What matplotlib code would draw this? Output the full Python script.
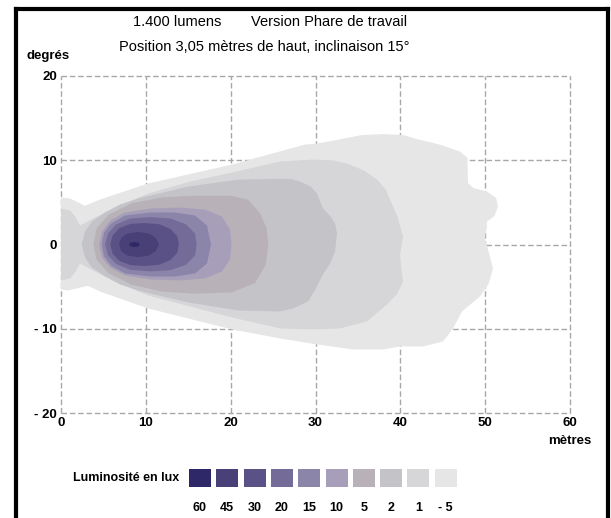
import matplotlib
matplotlib.use('Agg')
import matplotlib.pyplot as plt
from matplotlib.lines import Line2D
from matplotlib.patches import Rectangle

# lux levels and their colours (from the legend)
lux_labels = ['60', '45', '30', '20', '15', '10', '5', '2', '1', '- 5']
lux_colors = ['#2e2868', '#484077', '#5a5187', '#746b99', '#8c85aa',
              '#a79fba', '#b8b2b8', '#c4c4c8', '#d6d6d8', '#e6e6e6']

# isolux outlines: x in metres, y in degrees
out_x = [0, 1.06, 2.83, 4.6, 10.26, 20.16, 28.76, 30.18, 33.0, 35.5, 38.0, 40.3, 42.0,
         44.5, 47.04, 47.9, 47.98, 48.6, 50.22, 51.3, 51.51, 51.1, 50.22, 49.98, 50.5,
         50.93, 50.4, 49.39, 47.27, 46.21, 45.03, 42.67, 39.96, 37.96, 34.42, 30.18,
         25.82, 20.16, 10.26, 4.6, 3.18, 0.83, 0]
out_y = [5.58, 5.46, 4.6, 5.34, 7.24, 9.49, 11.86, 11.98, 12.5, 13.0, 13.1, 13.0, 12.5,
         11.9, 11.03, 10.3, 7.3, 6.7, 6.29, 5.5, 4.51, 3.4, 2.73, 0.71, -1.2,
         -2.85, -4.7, -6.17, -7.95, -9.96, -11.51, -12.1, -12.1, -12.46, -12.46, -11.86,
         -11.15, -10.08, -7.59, -5.58, -4.9, -5.46, -5.34]

l1_x = [0, 1.06, 1.65, 2.24, 4.0, 6.96, 10.26, 15.21, 20.16, 25.82, 29.7, 32.0, 33.71,
        35.7, 37.25, 38.3, 38.78, 39.7, 40.32, 39.96, 40.1, 40.32, 39.6, 38.43, 36.07,
        32.89, 29.7, 25.82, 20.16, 10.26, 6.96, 4.0, 2.24, 1.65, 1.06, 0]
l1_y = [4.27, 4.03, 3.32, 2.25, 3.2, 4.63, 6.05, 7.47, 8.54, 9.85, 10.08, 10.0, 9.61,
        8.8, 7.71, 6.5, 5.34, 3.2, 0.95, -1.19, -2.8, -4.39, -5.9, -7.12, -9.13,
        -9.96, -10.08, -9.96, -8.66, -6.05, -4.63, -3.2, -2.25, -3.32, -4.03, -4.27]

l2_x = [2.44, 2.83, 3.65, 5.19, 6.96, 9.08, 15.0, 20.87, 25.82, 27.2, 28.17, 29.4,
        30.18, 30.88, 31.8, 32.3, 32.54, 32.3, 31.7, 30.88, 30.0, 29.12, 27.35, 25.82,
        20.87, 15.0, 9.08, 6.96, 5.19, 3.65, 2.83]
l2_y = [0, 1.54, 2.73, 3.8, 4.74, 5.46, 6.88, 7.7, 7.8, 7.75, 7.47, 6.9, 6.05, 4.27,
        3.3, 2.49, 1.3, -0.83, -2.3, -3.56, -5.3, -6.76, -7.59, -7.95, -7.83, -6.88,
        -5.46, -4.74, -3.8, -2.73, -1.54]

l5_x = [3.81, 4.2, 5.58, 8.33, 11.87, 15.8, 20.12, 22.08, 23.46, 24.25, 24.44, 24.13,
        22.87, 20.12, 15.8, 11.87, 8.33, 5.58, 4.2]
l5_y = [0, 1.93, 3.52, 4.9, 5.58, 5.81, 5.78, 5.3, 3.71, 1.93, 0, -2.41, -4.59, -5.69,
        -5.85, -5.58, -4.78, -3.4, -1.81]

l10_x = [4.5, 4.83, 5.78, 7.54, 10.49, 14.03, 16.98, 18.98, 19.92, 20.1, 19.92, 18.98,
         16.98, 14.03, 10.49, 7.54, 5.78, 4.83]
l10_y = [0, 1.54, 2.85, 3.8, 4.27, 4.39, 4.15, 3.32, 1.78, 0, -1.78, -3.2, -4.03, -4.27,
         -4.15, -3.68, -2.73, -1.54]

l15_x = [4.8, 5.07, 5.89, 7.54, 10.49, 13.44, 15.8, 17.21, 17.68, 17.21, 15.8, 13.44,
         10.49, 7.54, 5.89, 5.07]
l15_y = [0, 1.42, 2.49, 3.44, 3.8, 3.8, 3.44, 2.25, 0, -2.25, -3.44, -3.8, -3.8, -3.44,
         -2.49, -1.42]

l20_x = [5.19, 5.54, 6.48, 8.13, 10.49, 12.85, 14.74, 15.8, 16.0, 15.8, 14.74, 12.85,
         10.49, 8.13, 6.48, 5.54]
l20_y = [0, 1.3, 2.37, 3.08, 3.25, 3.1, 2.4, 1.3, 0, -1.3, -2.4, -3.05, -3.2, -3.0,
         -2.3, -1.3]

l30_x = [5.8, 6.1, 6.9, 8.2, 9.9, 11.6, 12.9, 13.7, 13.9, 13.7, 12.9, 11.6, 9.9, 8.2,
         6.9, 6.1]
l30_y = [0, 1.1, 1.95, 2.45, 2.55, 2.4, 1.85, 1.0, 0, -1.0, -1.85, -2.4, -2.55, -2.45,
         -1.95, -1.1]

l45_x = [6.84, 7.1, 7.8, 9.1, 10.4, 11.2, 11.55, 11.2, 10.4, 9.1, 7.8, 7.1]
l45_y = [0, 0.8, 1.3, 1.5, 1.3, 0.75, 0, -0.75, -1.3, -1.5, -1.3, -0.8]

l60_x = [8.0, 8.2, 8.65, 9.1, 9.3, 9.1, 8.65, 8.2]
l60_y = [0, 0.22, 0.3, 0.22, 0, -0.22, -0.3, -0.22]

shapes = [(out_x, out_y, 9), (l1_x, l1_y, 8), (l2_x, l2_y, 7), (l5_x, l5_y, 6),
          (l10_x, l10_y, 5), (l15_x, l15_y, 4), (l20_x, l20_y, 3), (l30_x, l30_y, 2),
          (l45_x, l45_y, 1), (l60_x, l60_y, 0)]

x_ticks = [0, 10, 20, 30, 40, 50, 60]
y_ticks = [-20, -10, 0, 10, 20]
y_tick_labels = ['- 20', '- 10', '0', '10', '20']

narrow = ['Liberation Sans Narrow', 'Liberation Sans', 'DejaVu Sans']
plain = ['Liberation Sans', 'DejaVu Sans']

fig = plt.figure(figsize=(6.11, 5.18), dpi=100)
ax = fig.add_axes([61 / 611, 105 / 518, 509 / 611, 337 / 518])

# dashed grid, border included
for xv in x_ticks:
    ax.axvline(xv, color='#a8a8a8', lw=1, ls=(0, (4, 2)), zorder=1, clip_on=False)
for yv in y_ticks:
    ax.axhline(yv, color='#a8a8a8', lw=1, ls=(0, (4, 2)), zorder=1, clip_on=False)

for xs, ys, ci in shapes:
    ax.fill(xs, ys, color=lux_colors[ci], lw=0, zorder=2)

ax.set_xlim(0, 60)
ax.set_ylim(-20, 20)
for s in ax.spines.values():
    s.set_visible(False)
ax.set_xticks(x_ticks)
ax.set_yticks(y_ticks)
ax.set_yticklabels(y_tick_labels)
ax.tick_params(length=0, pad=3, labelsize=9.5)
for lab in ax.get_xticklabels() + ax.get_yticklabels():
    lab.set_fontfamily(narrow)
    lab.set_fontweight('bold')

fig.text(570 / 611, 1 - 441 / 518, 'mètres', ha='center', va='center',
         fontsize=9.5, fontweight='bold', family=narrow)
fig.text(48 / 611, 1 - 56 / 518, 'degrés', ha='center', va='center',
         fontsize=9.5, fontweight='bold', family=narrow)

# title lines
fig.text(177 / 611, 1 - 22 / 518, '1.400 lumens', ha='center', va='center',
         fontsize=10.5, family=plain)
fig.text(329 / 611, 1 - 22 / 518, 'Version Phare de travail', ha='center', va='center',
         fontsize=10.5, family=plain)
fig.text(264 / 611, 1 - 47 / 518, 'Position 3,05 mètres de haut, inclinaison 15°',
         ha='center', va='center', fontsize=10.5, family=plain)

# legend
fig.text(126 / 611, 1 - 478 / 518, 'Luminosité en lux', ha='center', va='center',
         fontsize=9, fontweight='bold', family=narrow)
for i, (lab, col) in enumerate(zip(lux_labels, lux_colors)):
    x0 = (189 + i * 27.3) / 611
    fig.patches.append(Rectangle((x0, 1 - 487 / 518), 22 / 611, 18 / 518,
                                 transform=fig.transFigure, color=col, lw=0))
    fig.text(x0 + 11 / 611, 1 - 508 / 518, lab, ha='center', va='center',
             fontsize=9, fontweight='bold', family=narrow)

# black frame, open at the bottom
frame_kw = dict(transform=fig.transFigure, color='black', lw=3)
fig.lines.append(Line2D([16 / 611, 16 / 611], [0, 1 - 9 / 518], **frame_kw))
fig.lines.append(Line2D([16 / 611, 608 / 611], [1 - 9 / 518, 1 - 9 / 518], **frame_kw))
fig.lines.append(Line2D([608 / 611, 608 / 611], [1 - 9 / 518, 0], **frame_kw))

fig.savefig('out.png', dpi=100)
